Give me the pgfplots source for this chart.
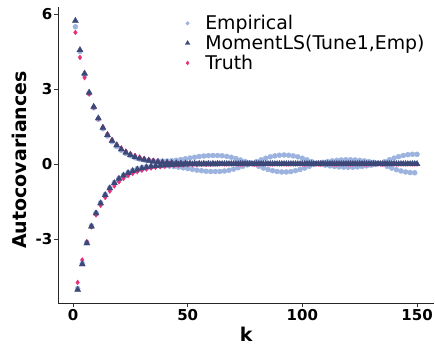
\documentclass[border=0pt]{standalone}
\usepackage{fontspec}
\setmainfont{DejaVu Sans}
\usepackage{pgfplots}
\usepackage{pgfplotstable}
\pgfplotsset{compat=1.18}
\definecolor{empc}{RGB}{155,179,222}
\definecolor{momc}{RGB}{59,72,120}
\definecolor{truc}{RGB}{232,48,122}
\pgfplotstableread{
k emp mom tru
1 5.49 5.73 5.263
2 -4.98 -5.03 -4.737
3 4.50 4.56 4.263
4 -3.98 -4.01 -3.837
5 3.57 3.62 3.453
6 -3.14 -3.17 -3.108
7 2.82 2.86 2.797
8 -2.47 -2.50 -2.517
9 2.25 2.29 2.266
10 -1.95 -1.97 -2.039
11 1.79 1.83 1.835
12 -1.55 -1.57 -1.652
13 1.41 1.45 1.486
14 -1.22 -1.24 -1.338
15 1.12 1.16 1.204
16 -0.95 -0.97 -1.084
17 0.89 0.93 0.975
18 -0.74 -0.76 -0.878
19 0.70 0.75 0.790
20 -0.57 -0.59 -0.711
21 0.55 0.59 0.640
22 -0.44 -0.46 -0.576
23 0.42 0.46 0.518
24 -0.34 -0.36 -0.466
25 0.33 0.36 0.420
26 -0.25 -0.28 -0.378
27 0.25 0.28 0.340
28 -0.18 -0.22 -0.306
29 0.20 0.22 0.275
30 -0.14 -0.17 -0.248
31 0.165 0.17 0.223
32 -0.11 -0.13 -0.201
33 0.14 0.13 0.181
34 -0.09 -0.10 -0.163
35 0.125 0.10 0.146
36 -0.08 -0.08 -0.132
37 0.12 0.08 0.119
38 -0.08 -0.06 -0.107
39 0.12 0.06 0.096
40 -0.08 -0.05 -0.086
41 0.12 0.05 0.078
42 -0.08 -0.04 -0.070
43 0.13 0.04 0.063
44 -0.10 -0.03 -0.057
45 0.15 0.03 0.051
46 -0.125 -0.02 -0.046
47 0.18 0.02 0.041
48 -0.155 -0.02 -0.037
49 0.21 0.02 0.033
50 -0.185 -0.01 -0.030
51 0.24 0.01 0.027
52 -0.215 -0.01 -0.024
53 0.27 0.01 0.022
54 -0.245 -0.01 -0.020
55 0.30 0.01 0.018
56 -0.27 -0.01 -0.016
57 0.32 0.01 0.014
58 -0.29 -0.01 -0.013
59 0.335 0.01 0.012
60 -0.30 -0.01 -0.010
61 0.34 0.01 0.009
62 -0.30 -0.01 0
63 0.34 0.01 0
64 -0.298 0 0
65 0.33 0 0
66 -0.28 0 0
67 0.305 0 0
68 -0.25 0 0
69 0.27 0 0
70 -0.205 0 0
71 0.22 0 0
72 -0.15 0 0
73 0.16 0 0
74 -0.09 0 0
75 0.10 0 0
76 -0.035 0 0
77 0.047 0 0
78 0.02 0 0
79 -0.018 0 0
80 0.096 0 0
81 -0.092 0 0
82 0.168 0 0
83 -0.161 0 0
84 0.232 0 0
85 -0.220 0 0
86 0.286 0 0
87 -0.268 0 0
88 0.326 0 0
89 -0.301 0 0
90 0.351 0 0
91 -0.318 0 0
92 0.36 0 0
93 -0.318 0 0
94 0.351 0 0
95 -0.301 0 0
96 0.326 0 0
97 -0.268 0 0
98 0.286 0 0
99 -0.220 0 0
100 0.232 0 0
101 -0.161 0 0
102 0.168 0 0
103 -0.092 0 0
104 0.096 0 0
105 -0.018 0 0
106 0.02 0 0
107 0.037 0 0
108 -0.013 0 0
109 0.070 0 0
110 -0.045 0 0
111 0.100 0 0
112 -0.074 0 0
113 0.126 0 0
114 -0.097 0 0
115 0.147 0 0
116 -0.115 0 0
117 0.162 0 0
118 -0.126 0 0
119 0.169 0 0
120 -0.130 0 0
121 0.169 0 0
122 -0.126 0 0
123 0.162 0 0
124 -0.115 0 0
125 0.147 0 0
126 -0.097 0 0
127 0.126 0 0
128 -0.074 0 0
129 0.100 0 0
130 -0.045 0 0
131 0.070 0 0
132 -0.013 0 0
133 0.037 0 0
134 0.02 0 0
135 -0.019 0 0
136 0.097 0 0
137 -0.094 0 0
138 0.170 0 0
139 -0.165 0 0
140 0.237 0 0
141 -0.228 0 0
142 0.295 0 0
143 -0.279 0 0
144 0.340 0 0
145 -0.318 0 0
146 0.372 0 0
147 -0.342 0 0
148 0.388 0 0
149 -0.350 0 0
150 0.388 0 0
}\data
\begin{document}
\begin{tikzpicture}
\begin{axis}[name=ax,
  scale only axis, width=375.8pt, height=296pt,
  xmin=-6.45, xmax=157.45, ymin=-5.57, ymax=6.27,
  axis lines=left, axis line style={-, line width=0.9pt, black!85},
  xtick={0,50,100,150}, xticklabels={0,50,100,150},
  ytick={-3,0,3,6}, yticklabels={-3,0,3,6},
  tick align=outside, major tick length=4pt,
  tick style={line width=0.9pt, black!80},
  ticklabel style={font=\fontsize{15}{18}\selectfont\bfseries},
  yticklabel style={xshift=1.5pt},
  xticklabel style={yshift=1.5pt},
  xlabel={k}, ylabel={Autocovariances},
  label style={font=\fontsize{19}{22}\selectfont\bfseries},
  xlabel style={at={(axis description cs:0.5,-0.104)}, anchor=center},
  ylabel style={at={(axis description cs:-0.1046,0.484)}, anchor=center},
  legend style={draw=none, fill=none, at={(0.335,0.98)}, anchor=north west,
    font=\fontsize{18.9}{20}\selectfont, inner sep=0pt, row sep=0pt},
  legend cell align=left,
  legend image code/.code={\path (0pt,0pt) (18.5pt,0pt); \draw[#1] plot coordinates {(3pt,0pt)};},
]
\addplot[only marks, mark=*, mark size=2.5pt, color=empc, forget plot] table[x=k,y=emp]{\data};
\addplot[only marks, mark=diamond*, mark size=2.4pt, color=truc, forget plot] table[x=k,y=tru]{\data};
\addplot[only marks, mark=triangle*, mark size=3.5pt, color=momc, forget plot] table[x=k,y=mom]{\data};
\addlegendimage{only marks, mark=*, mark size=1.8pt, color=empc}
\addlegendentry{Empirical}
\addlegendimage{only marks, mark=triangle*, mark size=2.6pt, color=momc}
\addlegendentry{MomentLS(Tune1,Emp)}
\addlegendimage{only marks, mark=diamond*, mark size=2pt, color=truc}
\addlegendentry{Truth}
\end{axis}
\pgfresetboundingbox
\path ([shift={(-58.3pt,-42.8pt)}]ax.south west) rectangle ([shift={(0.9pt,7.25pt)}]ax.north east);
\end{tikzpicture}
\end{document}
